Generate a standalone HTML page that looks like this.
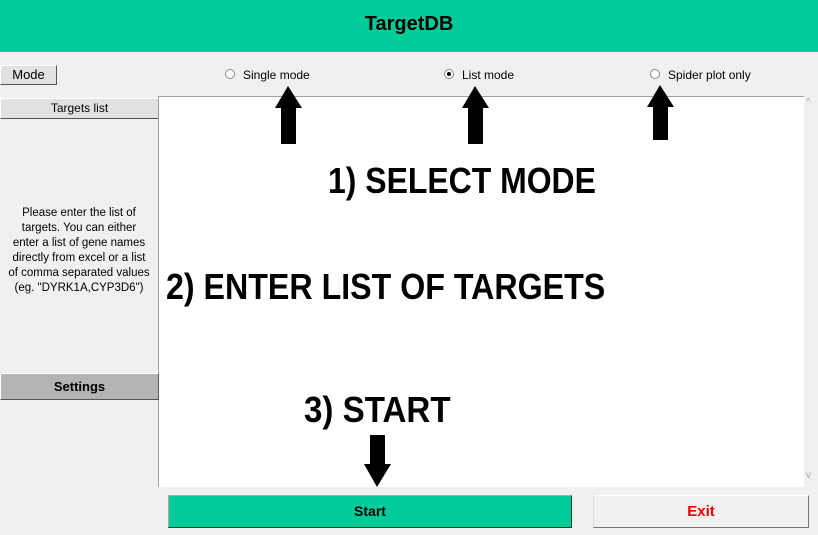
<!DOCTYPE html>
<html><head><style>
body{margin:0;width:818px;height:535px;background:#f0f0f0;position:relative;overflow:hidden;font-family:"Liberation Sans",sans-serif;}
.a{position:absolute}
.btn{position:absolute;background:#e1e1e1;border:1px solid #fff;border-right-color:#555;border-bottom-color:#555;box-sizing:border-box;text-align:center;font-size:12px;color:#000}
.big{position:absolute;font-weight:bold;font-size:36px;line-height:1;color:#000;white-space:nowrap;transform-origin:0 0}
.r{position:absolute;font-size:12px;color:#000}
.rad{position:absolute;width:10px;height:10px;border-radius:50%;border:1px solid #888;background:#fff;box-sizing:border-box}
</style></head><body>
<div class="a" style="left:0;top:0;width:818px;height:52px;background:#00cc99"></div>
<div class="a" style="left:0;top:13px;width:818px;text-align:center;font-size:20px;font-weight:bold;">TargetDB</div>
<div class="btn" style="left:0;top:65px;width:57px;height:20px;line-height:18px;font-size:13px">Mode</div>
<div class="rad" style="left:225px;top:69px"></div><div class="r" style="left:243px;top:68px">Single mode</div>
<div class="rad" style="left:444px;top:69px"></div><div class="a" style="left:447px;top:72px;width:4px;height:4px;border-radius:50%;background:#000"></div><div class="r" style="left:462px;top:68px">List mode</div>
<div class="rad" style="left:650px;top:69px"></div><div class="r" style="left:668px;top:68px">Spider plot only</div>
<div class="btn" style="left:0;top:98px;width:159px;height:21px;line-height:19px">Targets list</div>
<div class="a" style="left:158px;top:96px;width:645px;height:390px;background:#fff;border-top:1px solid #a0a0a0;border-left:1px solid #a0a0a0"></div>
<div class="a" style="left:806px;top:97px;font-size:10px;color:#aaa">^</div>
<div class="a" style="left:806px;top:470px;font-size:10px;color:#aaa">v</div>
<div class="a" style="left:0;top:206px;width:158px;text-align:center;font-size:11.5px;line-height:15px">Please enter the list of<br>targets. You can either<br>enter a list of gene names<br>directly from excel or a list<br>of comma separated values<br>(eg. "DYRK1A,CYP3D6")</div>
<div class="btn" style="left:0;top:373px;width:159px;height:27px;line-height:25px;background:#b4b4b4;font-weight:bold;font-size:13px">Settings</div>
<div class="big" style="left:328px;top:163px;transform:scaleX(0.887)">1) SELECT MODE</div>
<div class="big" style="left:166px;top:269px;transform:scaleX(0.894)">2) ENTER LIST OF TARGETS</div>
<div class="big" style="left:304px;top:392px;transform:scaleX(0.92)">3) START</div>
<svg class="a" style="left:0;top:0" width="818" height="535">
<polygon points="288,86 275,108 281,108 281,144 296,144 296,108 302,108" fill="#000"/>
<polygon points="475,86 462,108 468,108 468,144 483,144 483,108 489,108" fill="#000"/>
<polygon points="660,85 647,107 653,107 653,140 668,140 668,107 674,107" fill="#000"/>
<polygon points="377,487 364,464 370,464 370,435 385,435 385,464 391,464" fill="#000"/>
</svg>
<div class="btn" style="left:168px;top:495px;width:404px;height:33px;line-height:31px;background:#00cc99;border-color:#aaa #333 #333 #aaa;font-weight:bold;font-size:14px">Start</div>
<div class="btn" style="left:593px;top:495px;width:216px;height:33px;line-height:31px;background:#f0f0f0;border-color:#fff #777 #777 #ddd;font-weight:bold;font-size:15px;color:#e00">Exit</div>
</body></html>
